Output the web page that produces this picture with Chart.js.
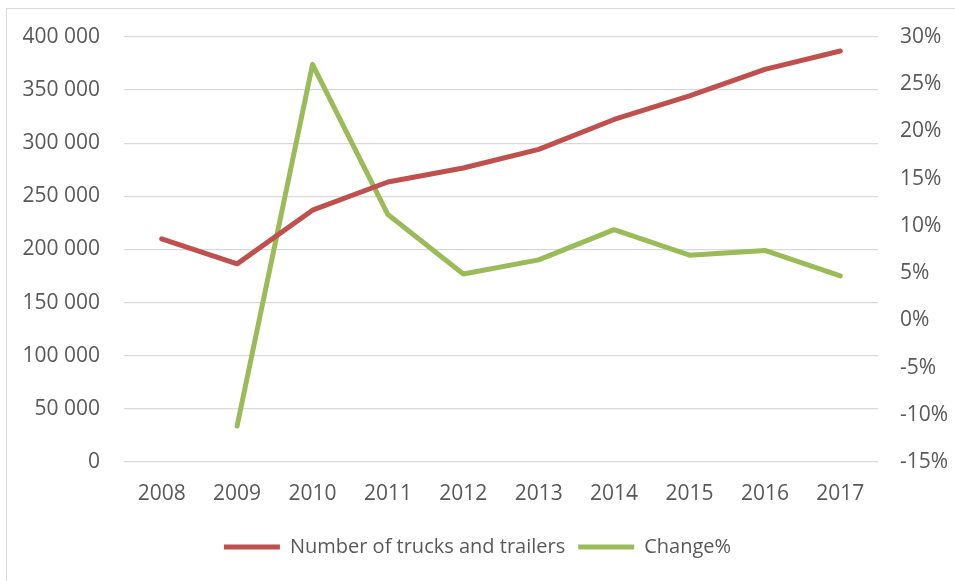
<!DOCTYPE html>
<html>
<head>
<meta charset="utf-8">
<script src="https://cdn.jsdelivr.net/npm/chart.js@4"></script>
<style>
    html, body { margin: 0; padding: 0; background: #fff; overflow: hidden; }
    #wrap { position: relative; width: 955px; height: 581px; }
    #frame { position: absolute; left: 6px; top: 8px; width: 960px; height: 600px; border: 1px solid #d9d9d9; box-sizing: border-box; }
    canvas { position: absolute; left: 0; top: 0; }
</style>
</head>
<body>
<div id="wrap">
    <div id="frame"></div>
    <canvas id="chart" width="955" height="581"></canvas>
</div>
<script>
const years = ["2008", "2009", "2010", "2011", "2012", "2013", "2014", "2015", "2016", "2017"]
const trucks = [210000, 186500, 237000, 263500, 276700, 294300, 322400, 344600, 369500, 386800]
const changePct = [null, -11.2, 27.1, 11.2, 4.9, 6.4, 9.6, 6.9, 7.4, 4.7]

const RED = "#c0504d"
const GREEN = "#9bbb59"
const TEXT = "#595959"
const FONT = "'Open Sans', sans-serif"
const TICK_SIZE = 21

// "400 000" style thousands separator
const spaced = (v) => String(v).replace(/\B(?=(\d{3})+(?!\d))/g, " ")

new Chart(document.getElementById("chart"), {
    type: "line",
    data: {
        labels: years,
        datasets: [
            {
                label: "Number of trucks and trailers",
                data: trucks,
                yAxisID: "y",
                borderColor: RED,
                backgroundColor: RED,
                borderWidth: 5,
                pointRadius: 0,
                borderCapStyle: "round",
                borderJoinStyle: "round",
                tension: 0,
            },
            {
                label: "Change%",
                data: changePct,
                yAxisID: "y1",
                borderColor: GREEN,
                backgroundColor: GREEN,
                borderWidth: 5,
                pointRadius: 0,
                borderCapStyle: "round",
                borderJoinStyle: "round",
                tension: 0,
            },
        ],
    },
    options: {
        responsive: false,
        animation: false,
        layout: { padding: { top: 37, left: 0, right: 0, bottom: 14 } },
        plugins: {
            tooltip: { enabled: false },
            legend: {
                position: "bottom",
                labels: {
                    color: TEXT,
                    font: { family: FONT, size: 20 },
                    boxWidth: 56,
                    boxHeight: 5,
                    padding: 13,
                    useBorderRadius: true,
                    borderRadius: 2.5,
                    generateLabels: (chart) => chart.data.datasets.map((ds, i) => ({
                        text: ds.label,
                        fillStyle: ds.borderColor,
                        strokeStyle: ds.borderColor,
                        lineWidth: 0,
                        fontColor: TEXT,
                        datasetIndex: i,
                        hidden: false,
                    })),
                },
            },
        },
        scales: {
            x: {
                offset: true,
                grid: { display: false, drawTicks: false },
                border: { display: false },
                ticks: { color: TEXT, font: { family: FONT, size: TICK_SIZE }, padding: 19 },
                afterFit: (s) => { s.height = 62 },
            },
            y: {
                position: "left",
                min: 0,
                max: 400000,
                grid: { color: "#d9d9d9", lineWidth: 1.3, drawTicks: false },
                border: { display: false },
                ticks: {
                    stepSize: 50000,
                    color: TEXT,
                    font: { family: FONT, size: TICK_SIZE },
                    padding: 24,
                    callback: (v) => spaced(v),
                },
                afterFit: (s) => { s.width = 124 },
            },
            y1: {
                position: "right",
                min: -15,
                max: 30,
                grid: { display: false, drawTicks: false },
                border: { display: false },
                ticks: {
                    stepSize: 5,
                    color: TEXT,
                    font: { family: FONT, size: TICK_SIZE },
                    padding: 22,
                    callback: (v) => v + "%",
                },
                afterFit: (s) => { s.width = 955 - 878 },
            },
        },
    },
})
</script>
</body>
</html>
